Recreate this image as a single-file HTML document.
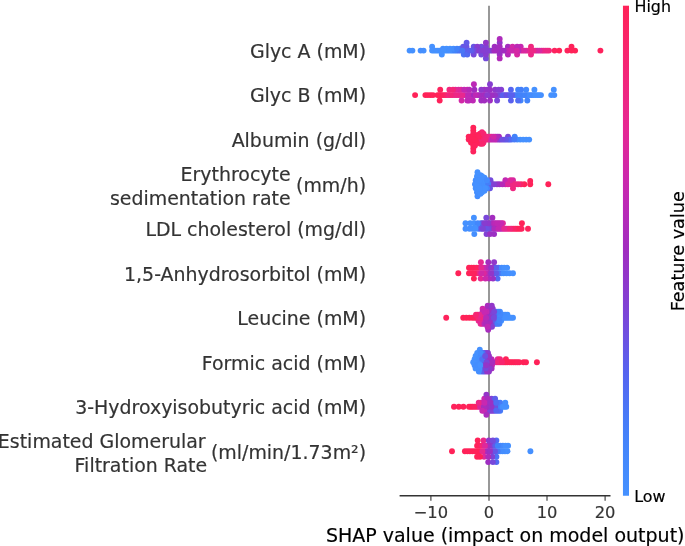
<!DOCTYPE html><html><head><meta charset="utf-8"><title>SHAP summary</title>
<style>html,body{margin:0;padding:0;background:#fff}svg{display:block}text{font-family:"DejaVu Sans","Liberation Sans",sans-serif;stroke-width:0.18px;paint-order:stroke}</style></head><body>
<svg width="685" height="546" viewBox="0 0 685 546">
<rect width="685" height="546" fill="#fff"/>
<defs><linearGradient id="cb" x1="0" y1="1" x2="0" y2="0">
<stop offset="0.00" stop-color="#4591ff"/>
<stop offset="0.05" stop-color="#448bfd"/>
<stop offset="0.10" stop-color="#4385fb"/>
<stop offset="0.15" stop-color="#467cf8"/>
<stop offset="0.20" stop-color="#4d70f4"/>
<stop offset="0.25" stop-color="#5564f0"/>
<stop offset="0.30" stop-color="#6557e6"/>
<stop offset="0.35" stop-color="#754adc"/>
<stop offset="0.40" stop-color="#843fd2"/>
<stop offset="0.45" stop-color="#9236c9"/>
<stop offset="0.50" stop-color="#a02dc0"/>
<stop offset="0.55" stop-color="#af2bba"/>
<stop offset="0.60" stop-color="#be29b5"/>
<stop offset="0.65" stop-color="#cc28ac"/>
<stop offset="0.70" stop-color="#d9289f"/>
<stop offset="0.75" stop-color="#e62893"/>
<stop offset="0.80" stop-color="#ec2787"/>
<stop offset="0.85" stop-color="#f2267c"/>
<stop offset="0.90" stop-color="#f72570"/>
<stop offset="0.95" stop-color="#fb2464"/>
<stop offset="1.00" stop-color="#ff2258"/>
</linearGradient></defs>
<line x1="489.0" y1="5.7" x2="489.0" y2="495.75" stroke="#989898" stroke-width="2"/>
<g>
<circle cx="517.1" cy="54.5" r="2.95" fill="#d828a1"/>
<circle cx="432.1" cy="46.7" r="2.95" fill="#4591ff"/>
<circle cx="423.6" cy="50.6" r="2.95" fill="#4591ff"/>
<circle cx="554.6" cy="50.6" r="2.95" fill="#fd235f"/>
<circle cx="460.0" cy="48.7" r="2.95" fill="#457df8"/>
<circle cx="499.7" cy="54.5" r="2.95" fill="#9a31c4"/>
<circle cx="494.6" cy="46.7" r="2.95" fill="#9f2dc0"/>
<circle cx="507.9" cy="54.5" r="2.95" fill="#b32ab9"/>
<circle cx="463.8" cy="54.5" r="2.95" fill="#4b73f5"/>
<circle cx="567.4" cy="50.6" r="2.95" fill="#fe235c"/>
<circle cx="526.4" cy="50.6" r="2.95" fill="#ec2788"/>
<circle cx="450.0" cy="48.7" r="2.95" fill="#4590ff"/>
<circle cx="520.7" cy="46.7" r="2.95" fill="#c728b2"/>
<circle cx="409.6" cy="50.6" r="2.95" fill="#4591ff"/>
<circle cx="447.2" cy="50.6" r="2.95" fill="#4591ff"/>
<circle cx="571.5" cy="46.7" r="2.95" fill="#fe225a"/>
<circle cx="481.3" cy="46.7" r="2.95" fill="#714dde"/>
<circle cx="452.8" cy="50.6" r="2.95" fill="#4590ff"/>
<circle cx="535.8" cy="50.6" r="2.95" fill="#d628a2"/>
<circle cx="443.0" cy="48.7" r="2.95" fill="#4590ff"/>
<circle cx="473.7" cy="54.5" r="2.95" fill="#764adc"/>
<circle cx="473.7" cy="46.7" r="2.95" fill="#6954e3"/>
<circle cx="559.2" cy="50.6" r="2.95" fill="#ff2258"/>
<circle cx="485.9" cy="58.4" r="2.95" fill="#754adc"/>
<circle cx="600.4" cy="50.6" r="2.95" fill="#fe225c"/>
<circle cx="498.1" cy="50.6" r="2.95" fill="#a32dbf"/>
<circle cx="530.1" cy="50.6" r="2.95" fill="#e02898"/>
<circle cx="445.3" cy="50.6" r="2.95" fill="#4591ff"/>
<circle cx="456.6" cy="50.6" r="2.95" fill="#4878f7"/>
<circle cx="451.0" cy="50.6" r="2.95" fill="#4590ff"/>
<circle cx="500.0" cy="50.6" r="2.95" fill="#9932c5"/>
<circle cx="446.5" cy="48.7" r="2.95" fill="#4591ff"/>
<circle cx="513.2" cy="50.6" r="2.95" fill="#bb29b6"/>
<circle cx="499.7" cy="42.8" r="2.95" fill="#9336c9"/>
<circle cx="501.9" cy="50.6" r="2.95" fill="#9a31c4"/>
<circle cx="520.7" cy="50.6" r="2.95" fill="#c528b3"/>
<circle cx="505.6" cy="50.6" r="2.95" fill="#9d2fc2"/>
<circle cx="499.7" cy="58.4" r="2.95" fill="#b02bba"/>
<circle cx="496.2" cy="50.6" r="2.95" fill="#a32dbf"/>
<circle cx="507.9" cy="46.7" r="2.95" fill="#a42cbf"/>
<circle cx="509.4" cy="50.6" r="2.95" fill="#b42ab9"/>
<circle cx="460.4" cy="50.6" r="2.95" fill="#4e6ff4"/>
<circle cx="543.3" cy="50.6" r="2.95" fill="#eb2789"/>
<circle cx="512.5" cy="46.7" r="2.95" fill="#d128a7"/>
<circle cx="412.4" cy="50.6" r="2.95" fill="#4591ff"/>
<circle cx="485.9" cy="46.7" r="2.95" fill="#8042d5"/>
<circle cx="515.1" cy="50.6" r="2.95" fill="#d428a4"/>
<circle cx="528.3" cy="50.6" r="2.95" fill="#e52894"/>
<circle cx="477.3" cy="46.7" r="2.95" fill="#883dd0"/>
<circle cx="537.7" cy="50.6" r="2.95" fill="#cc28ac"/>
<circle cx="507.5" cy="50.6" r="2.95" fill="#bf29b4"/>
<circle cx="511.3" cy="50.6" r="2.95" fill="#ca28ae"/>
<circle cx="503.7" cy="50.6" r="2.95" fill="#a12dc0"/>
<circle cx="464.2" cy="50.6" r="2.95" fill="#4b74f5"/>
<circle cx="477.4" cy="50.6" r="2.95" fill="#764adc"/>
<circle cx="533.9" cy="50.6" r="2.95" fill="#eb278a"/>
<circle cx="481.3" cy="54.5" r="2.95" fill="#734cdd"/>
<circle cx="545.2" cy="50.6" r="2.95" fill="#e72892"/>
<circle cx="531.0" cy="54.5" r="2.95" fill="#ec2788"/>
<circle cx="492.4" cy="50.6" r="2.95" fill="#a22dbf"/>
<circle cx="486.8" cy="50.6" r="2.95" fill="#8c3acd"/>
<circle cx="467.9" cy="50.6" r="2.95" fill="#5268f1"/>
<circle cx="458.5" cy="50.6" r="2.95" fill="#4a76f6"/>
<circle cx="466.5" cy="46.7" r="2.95" fill="#6c52e2"/>
<circle cx="434.0" cy="50.6" r="2.95" fill="#4590ff"/>
<circle cx="437.8" cy="50.6" r="2.95" fill="#4591ff"/>
<circle cx="499.7" cy="38.9" r="2.95" fill="#ad2bbb"/>
<circle cx="532.0" cy="50.6" r="2.95" fill="#ec2787"/>
<circle cx="522.6" cy="50.6" r="2.95" fill="#e22897"/>
<circle cx="488.7" cy="50.6" r="2.95" fill="#863ed1"/>
<circle cx="466.6" cy="42.8" r="2.95" fill="#625ae8"/>
<circle cx="420.6" cy="50.6" r="2.95" fill="#458ffe"/>
<circle cx="473.6" cy="50.6" r="2.95" fill="#5d5eeb"/>
<circle cx="475.5" cy="50.6" r="2.95" fill="#744bdd"/>
<circle cx="490.6" cy="50.6" r="2.95" fill="#8240d3"/>
<circle cx="441.5" cy="50.6" r="2.95" fill="#458ffe"/>
<circle cx="575.1" cy="50.6" r="2.95" fill="#ff2259"/>
<circle cx="485.9" cy="54.5" r="2.95" fill="#883dd0"/>
<circle cx="479.2" cy="50.6" r="2.95" fill="#893ccf"/>
<circle cx="454.7" cy="50.6" r="2.95" fill="#4283fa"/>
<circle cx="439.6" cy="50.6" r="2.95" fill="#4590ff"/>
<circle cx="466.0" cy="50.6" r="2.95" fill="#5e5deb"/>
<circle cx="549.0" cy="50.6" r="2.95" fill="#f42679"/>
<circle cx="494.3" cy="50.6" r="2.95" fill="#a52cbe"/>
<circle cx="541.5" cy="50.6" r="2.95" fill="#ec2787"/>
<circle cx="453.5" cy="48.7" r="2.95" fill="#448efe"/>
<circle cx="467.3" cy="54.5" r="2.95" fill="#5269f2"/>
<circle cx="517.1" cy="46.7" r="2.95" fill="#bc29b6"/>
<circle cx="518.8" cy="50.6" r="2.95" fill="#b72ab8"/>
<circle cx="481.1" cy="50.6" r="2.95" fill="#7f43d6"/>
<circle cx="484.9" cy="50.6" r="2.95" fill="#8340d3"/>
<circle cx="547.1" cy="50.6" r="2.95" fill="#ef2782"/>
<circle cx="432.1" cy="50.6" r="2.95" fill="#4591ff"/>
<circle cx="485.9" cy="42.8" r="2.95" fill="#9236c9"/>
<circle cx="449.1" cy="50.6" r="2.95" fill="#458ffe"/>
<circle cx="435.9" cy="50.6" r="2.95" fill="#4591ff"/>
<circle cx="524.5" cy="50.6" r="2.95" fill="#d928a0"/>
<circle cx="443.4" cy="50.6" r="2.95" fill="#4591ff"/>
<circle cx="457.0" cy="48.7" r="2.95" fill="#4283fa"/>
<circle cx="539.6" cy="50.6" r="2.95" fill="#d928a0"/>
<circle cx="516.9" cy="50.6" r="2.95" fill="#d428a5"/>
<circle cx="499.7" cy="46.7" r="2.95" fill="#a52cbe"/>
<circle cx="471.7" cy="50.6" r="2.95" fill="#615ae8"/>
<circle cx="571.5" cy="50.6" r="2.95" fill="#ff2258"/>
<circle cx="463.2" cy="46.7" r="2.95" fill="#6657e5"/>
<circle cx="441.8" cy="54.5" r="2.95" fill="#4591ff"/>
<circle cx="462.3" cy="50.6" r="2.95" fill="#4976f6"/>
<circle cx="469.8" cy="50.6" r="2.95" fill="#5b60ed"/>
<circle cx="531.0" cy="46.7" r="2.95" fill="#f0277f"/>
<circle cx="483.0" cy="50.6" r="2.95" fill="#863ed1"/>
</g>
<g>
<circle cx="425.4" cy="95.1" r="2.95" fill="#ff2258"/>
<circle cx="537.2" cy="95.1" r="2.95" fill="#4591ff"/>
<circle cx="504.6" cy="95.1" r="2.95" fill="#6359e8"/>
<circle cx="461.6" cy="100.5" r="2.95" fill="#d228a6"/>
<circle cx="500.8" cy="95.1" r="2.95" fill="#6a53e3"/>
<circle cx="441.3" cy="95.1" r="2.95" fill="#fc2362"/>
<circle cx="472.0" cy="95.1" r="2.95" fill="#ac2bbc"/>
<circle cx="467.3" cy="89.7" r="2.95" fill="#d528a3"/>
<circle cx="554.3" cy="95.1" r="2.95" fill="#4590ff"/>
<circle cx="501.2" cy="89.7" r="2.95" fill="#8440d3"/>
<circle cx="483.5" cy="95.1" r="2.95" fill="#9733c6"/>
<circle cx="470.1" cy="95.1" r="2.95" fill="#c628b2"/>
<circle cx="473.9" cy="95.1" r="2.95" fill="#a42cbe"/>
<circle cx="520.6" cy="100.5" r="2.95" fill="#4385fb"/>
<circle cx="466.2" cy="95.1" r="2.95" fill="#ba2ab6"/>
<circle cx="497.1" cy="100.5" r="2.95" fill="#7c45d8"/>
<circle cx="452.8" cy="95.1" r="2.95" fill="#ef2782"/>
<circle cx="473.9" cy="84.3" r="2.95" fill="#bc29b6"/>
<circle cx="467.3" cy="100.5" r="2.95" fill="#c029b4"/>
<circle cx="496.9" cy="95.1" r="2.95" fill="#7c45d8"/>
<circle cx="490.0" cy="84.3" r="2.95" fill="#863ed1"/>
<circle cx="508.4" cy="95.1" r="2.95" fill="#6458e7"/>
<circle cx="460.5" cy="95.1" r="2.95" fill="#e52894"/>
<circle cx="551.2" cy="95.1" r="2.95" fill="#4591ff"/>
<circle cx="527.6" cy="95.1" r="2.95" fill="#4388fc"/>
<circle cx="439.4" cy="95.1" r="2.95" fill="#fe225b"/>
<circle cx="464.3" cy="95.1" r="2.95" fill="#cc28ad"/>
<circle cx="472.9" cy="100.5" r="2.95" fill="#be29b5"/>
<circle cx="439.7" cy="100.5" r="2.95" fill="#fe225a"/>
<circle cx="531.4" cy="95.1" r="2.95" fill="#448afd"/>
<circle cx="527.3" cy="100.5" r="2.95" fill="#4284fb"/>
<circle cx="458.6" cy="95.1" r="2.95" fill="#e72892"/>
<circle cx="489.2" cy="95.1" r="2.95" fill="#9335c8"/>
<circle cx="495.1" cy="89.7" r="2.95" fill="#8d39cc"/>
<circle cx="474.4" cy="89.7" r="2.95" fill="#a22dbf"/>
<circle cx="462.4" cy="95.1" r="2.95" fill="#e8288f"/>
<circle cx="458.6" cy="89.7" r="2.95" fill="#da289e"/>
<circle cx="518.0" cy="95.1" r="2.95" fill="#4779f7"/>
<circle cx="514.2" cy="95.1" r="2.95" fill="#4977f6"/>
<circle cx="454.8" cy="95.1" r="2.95" fill="#e8288f"/>
<circle cx="437.5" cy="95.1" r="2.95" fill="#ff2258"/>
<circle cx="498.8" cy="95.1" r="2.95" fill="#7d44d7"/>
<circle cx="521.1" cy="89.7" r="2.95" fill="#447ff9"/>
<circle cx="481.6" cy="95.1" r="2.95" fill="#b12bba"/>
<circle cx="484.3" cy="89.7" r="2.95" fill="#a22dbf"/>
<circle cx="461.1" cy="89.7" r="2.95" fill="#de289b"/>
<circle cx="518.1" cy="100.5" r="2.95" fill="#506df3"/>
<circle cx="516.1" cy="95.1" r="2.95" fill="#447ef9"/>
<circle cx="490.0" cy="89.7" r="2.95" fill="#9a31c4"/>
<circle cx="445.2" cy="95.1" r="2.95" fill="#f62673"/>
<circle cx="485.4" cy="95.1" r="2.95" fill="#a22dbf"/>
<circle cx="443.2" cy="95.1" r="2.95" fill="#fc2360"/>
<circle cx="523.8" cy="95.1" r="2.95" fill="#4284fb"/>
<circle cx="498.7" cy="89.7" r="2.95" fill="#873ed1"/>
<circle cx="468.2" cy="95.1" r="2.95" fill="#be29b5"/>
<circle cx="493.1" cy="95.1" r="2.95" fill="#9e2ec1"/>
<circle cx="510.9" cy="89.7" r="2.95" fill="#5664f0"/>
<circle cx="487.4" cy="89.7" r="2.95" fill="#9633c6"/>
<circle cx="455.5" cy="89.7" r="2.95" fill="#e12898"/>
<circle cx="449.4" cy="89.7" r="2.95" fill="#f2267c"/>
<circle cx="510.9" cy="100.5" r="2.95" fill="#5a60ed"/>
<circle cx="533.3" cy="95.1" r="2.95" fill="#448cfd"/>
<circle cx="525.7" cy="95.1" r="2.95" fill="#4284fb"/>
<circle cx="553.8" cy="89.7" r="2.95" fill="#4591ff"/>
<circle cx="430.5" cy="95.1" r="2.95" fill="#ff2258"/>
<circle cx="440.2" cy="89.7" r="2.95" fill="#fd235d"/>
<circle cx="495.0" cy="95.1" r="2.95" fill="#9633c6"/>
<circle cx="529.5" cy="95.1" r="2.95" fill="#448cfd"/>
<circle cx="481.3" cy="100.5" r="2.95" fill="#a22dbf"/>
<circle cx="535.2" cy="95.1" r="2.95" fill="#4591ff"/>
<circle cx="433.0" cy="95.1" r="2.95" fill="#ff2259"/>
<circle cx="447.1" cy="95.1" r="2.95" fill="#f9256b"/>
<circle cx="484.3" cy="100.5" r="2.95" fill="#a12dbf"/>
<circle cx="512.2" cy="95.1" r="2.95" fill="#5e5deb"/>
<circle cx="427.9" cy="95.1" r="2.95" fill="#ff2258"/>
<circle cx="491.2" cy="95.1" r="2.95" fill="#9f2ec1"/>
<circle cx="469.0" cy="100.5" r="2.95" fill="#bc29b6"/>
<circle cx="464.2" cy="89.7" r="2.95" fill="#c328b3"/>
<circle cx="502.7" cy="95.1" r="2.95" fill="#5a60ed"/>
<circle cx="449.0" cy="95.1" r="2.95" fill="#ef2781"/>
<circle cx="521.8" cy="95.1" r="2.95" fill="#4385fb"/>
<circle cx="487.3" cy="95.1" r="2.95" fill="#8d3acd"/>
<circle cx="479.7" cy="95.1" r="2.95" fill="#a12dc0"/>
<circle cx="456.7" cy="95.1" r="2.95" fill="#ed2786"/>
<circle cx="526.2" cy="89.7" r="2.95" fill="#448afd"/>
<circle cx="450.9" cy="95.1" r="2.95" fill="#f32679"/>
<circle cx="477.8" cy="95.1" r="2.95" fill="#ae2bbb"/>
<circle cx="490.0" cy="100.5" r="2.95" fill="#9f2ec1"/>
<circle cx="506.5" cy="95.1" r="2.95" fill="#6a53e3"/>
<circle cx="541.0" cy="95.1" r="2.95" fill="#458ffe"/>
<circle cx="510.3" cy="95.1" r="2.95" fill="#5861ee"/>
<circle cx="453.0" cy="89.7" r="2.95" fill="#f32679"/>
<circle cx="534.4" cy="89.7" r="2.95" fill="#4591ff"/>
<circle cx="481.3" cy="89.7" r="2.95" fill="#8f38cb"/>
<circle cx="469.3" cy="89.7" r="2.95" fill="#b62ab8"/>
<circle cx="519.9" cy="95.1" r="2.95" fill="#4282fa"/>
<circle cx="415.1" cy="95.1" r="2.95" fill="#ff2258"/>
<circle cx="518.1" cy="89.7" r="2.95" fill="#4381fa"/>
<circle cx="475.8" cy="95.1" r="2.95" fill="#be29b5"/>
<circle cx="539.1" cy="95.1" r="2.95" fill="#4591ff"/>
</g>
<g>
<circle cx="473.3" cy="145.6" r="2.95" fill="#fd235e"/>
<circle cx="507.8" cy="139.6" r="2.95" fill="#6f50e0"/>
<circle cx="488.1" cy="136.6" r="2.95" fill="#e8288e"/>
<circle cx="520.2" cy="139.6" r="2.95" fill="#4590ff"/>
<circle cx="475.3" cy="142.6" r="2.95" fill="#fe225b"/>
<circle cx="482.0" cy="132.1" r="2.95" fill="#f42678"/>
<circle cx="481.5" cy="142.6" r="2.95" fill="#f62674"/>
<circle cx="483.5" cy="142.6" r="2.95" fill="#f1277d"/>
<circle cx="496.6" cy="139.6" r="2.95" fill="#bf29b5"/>
<circle cx="500.3" cy="139.6" r="2.95" fill="#9b30c3"/>
<circle cx="495.5" cy="136.6" r="2.95" fill="#ab2bbc"/>
<circle cx="498.5" cy="139.6" r="2.95" fill="#8e39cc"/>
<circle cx="526.2" cy="139.6" r="2.95" fill="#4591ff"/>
<circle cx="508.0" cy="136.6" r="2.95" fill="#7749db"/>
<circle cx="491.8" cy="136.6" r="2.95" fill="#d728a2"/>
<circle cx="499.0" cy="136.6" r="2.95" fill="#a62cbe"/>
<circle cx="511.5" cy="139.6" r="2.95" fill="#4c72f5"/>
<circle cx="473.3" cy="130.6" r="2.95" fill="#ff2258"/>
<circle cx="479.4" cy="142.6" r="2.95" fill="#fe225b"/>
<circle cx="477.0" cy="136.6" r="2.95" fill="#ff2259"/>
<circle cx="476.5" cy="135.1" r="2.95" fill="#ff2258"/>
<circle cx="494.8" cy="139.6" r="2.95" fill="#c328b3"/>
<circle cx="471.0" cy="136.6" r="2.95" fill="#ff2258"/>
<circle cx="478.0" cy="139.6" r="2.95" fill="#fe225b"/>
<circle cx="480.0" cy="133.6" r="2.95" fill="#fd235e"/>
<circle cx="470.6" cy="139.6" r="2.95" fill="#ff2258"/>
<circle cx="475.2" cy="136.6" r="2.95" fill="#ff2259"/>
<circle cx="484.4" cy="136.6" r="2.95" fill="#f42678"/>
<circle cx="468.7" cy="139.6" r="2.95" fill="#fd235d"/>
<circle cx="471.0" cy="142.6" r="2.95" fill="#fe225a"/>
<circle cx="504.1" cy="139.6" r="2.95" fill="#6b52e2"/>
<circle cx="473.3" cy="142.6" r="2.95" fill="#ff2258"/>
<circle cx="481.8" cy="133.6" r="2.95" fill="#f72570"/>
<circle cx="509.6" cy="139.6" r="2.95" fill="#5368f1"/>
<circle cx="473.3" cy="133.6" r="2.95" fill="#fd235d"/>
<circle cx="523.2" cy="139.6" r="2.95" fill="#4591ff"/>
<circle cx="490.0" cy="136.6" r="2.95" fill="#e8288e"/>
<circle cx="517.2" cy="139.6" r="2.95" fill="#448cfd"/>
<circle cx="505.9" cy="139.6" r="2.95" fill="#6358e7"/>
<circle cx="497.3" cy="136.6" r="2.95" fill="#b12bba"/>
<circle cx="476.1" cy="139.6" r="2.95" fill="#ff2258"/>
<circle cx="529.2" cy="139.6" r="2.95" fill="#4591ff"/>
<circle cx="483.6" cy="139.6" r="2.95" fill="#f32679"/>
<circle cx="480.5" cy="143.8" r="2.95" fill="#f92469"/>
<circle cx="482.6" cy="136.6" r="2.95" fill="#f32679"/>
<circle cx="479.9" cy="139.6" r="2.95" fill="#fb2464"/>
<circle cx="473.3" cy="127.6" r="2.95" fill="#ff2258"/>
<circle cx="502.2" cy="139.6" r="2.95" fill="#6f4fe0"/>
<circle cx="487.3" cy="139.6" r="2.95" fill="#f1277d"/>
<circle cx="477.4" cy="142.6" r="2.95" fill="#ff2258"/>
<circle cx="473.3" cy="148.6" r="2.95" fill="#ff2258"/>
<circle cx="481.7" cy="139.6" r="2.95" fill="#f52676"/>
<circle cx="489.2" cy="139.6" r="2.95" fill="#e32896"/>
<circle cx="491.0" cy="139.6" r="2.95" fill="#d128a7"/>
<circle cx="475.0" cy="145.6" r="2.95" fill="#fe225c"/>
<circle cx="468.7" cy="136.6" r="2.95" fill="#fe225c"/>
<circle cx="480.7" cy="136.6" r="2.95" fill="#f7256f"/>
<circle cx="478.0" cy="135.1" r="2.95" fill="#fe225b"/>
<circle cx="473.3" cy="136.6" r="2.95" fill="#ff2259"/>
<circle cx="486.3" cy="136.6" r="2.95" fill="#f02780"/>
<circle cx="478.9" cy="136.6" r="2.95" fill="#fd235d"/>
<circle cx="514.7" cy="136.6" r="2.95" fill="#4283fa"/>
<circle cx="472.4" cy="139.6" r="2.95" fill="#ff2259"/>
<circle cx="474.3" cy="139.6" r="2.95" fill="#ff2258"/>
<circle cx="492.9" cy="139.6" r="2.95" fill="#c029b4"/>
<circle cx="483.5" cy="133.6" r="2.95" fill="#f72570"/>
<circle cx="485.4" cy="139.6" r="2.95" fill="#f42677"/>
<circle cx="514.3" cy="139.6" r="2.95" fill="#477bf8"/>
<circle cx="473.3" cy="151.6" r="2.95" fill="#fd235d"/>
<circle cx="493.7" cy="136.6" r="2.95" fill="#d328a5"/>
<circle cx="482.5" cy="143.8" r="2.95" fill="#f8256e"/>
</g>
<g>
<circle cx="484.5" cy="184.2" r="2.95" fill="#458ffe"/>
<circle cx="530.2" cy="184.2" r="2.95" fill="#ff2258"/>
<circle cx="480.3" cy="176.2" r="2.95" fill="#458ffe"/>
<circle cx="481.4" cy="180.2" r="2.95" fill="#458ffe"/>
<circle cx="524.3" cy="184.2" r="2.95" fill="#ff2258"/>
<circle cx="483.2" cy="180.2" r="2.95" fill="#448efe"/>
<circle cx="499.5" cy="184.2" r="2.95" fill="#9037ca"/>
<circle cx="477.0" cy="192.2" r="2.95" fill="#448efe"/>
<circle cx="486.4" cy="184.2" r="2.95" fill="#458ffe"/>
<circle cx="478.7" cy="176.2" r="2.95" fill="#4590ff"/>
<circle cx="480.3" cy="192.2" r="2.95" fill="#4591ff"/>
<circle cx="497.0" cy="184.2" r="2.95" fill="#9634c7"/>
<circle cx="492.1" cy="184.2" r="2.95" fill="#6656e5"/>
<circle cx="477.0" cy="176.2" r="2.95" fill="#4591ff"/>
<circle cx="484.5" cy="190.8" r="2.95" fill="#458ffe"/>
<circle cx="482.6" cy="184.2" r="2.95" fill="#4590ff"/>
<circle cx="505.4" cy="184.2" r="2.95" fill="#d128a7"/>
<circle cx="490.5" cy="180.2" r="2.95" fill="#744bdc"/>
<circle cx="510.5" cy="184.2" r="2.95" fill="#d728a1"/>
<circle cx="513.0" cy="188.2" r="2.95" fill="#f02781"/>
<circle cx="475.7" cy="188.2" r="2.95" fill="#4591ff"/>
<circle cx="490.2" cy="184.2" r="2.95" fill="#714edf"/>
<circle cx="483.2" cy="188.2" r="2.95" fill="#4591ff"/>
<circle cx="485.1" cy="180.2" r="2.95" fill="#4591ff"/>
<circle cx="502.5" cy="184.2" r="2.95" fill="#b42ab8"/>
<circle cx="488.3" cy="184.2" r="2.95" fill="#457ef9"/>
<circle cx="505.4" cy="180.2" r="2.95" fill="#c328b3"/>
<circle cx="482.0" cy="192.2" r="2.95" fill="#4591ff"/>
<circle cx="481.4" cy="188.2" r="2.95" fill="#458ffe"/>
<circle cx="478.7" cy="192.2" r="2.95" fill="#4591ff"/>
<circle cx="490.0" cy="188.2" r="2.95" fill="#6855e4"/>
<circle cx="513.0" cy="180.2" r="2.95" fill="#d828a0"/>
<circle cx="480.5" cy="175.2" r="2.95" fill="#4591ff"/>
<circle cx="521.0" cy="184.2" r="2.95" fill="#fa2466"/>
<circle cx="480.7" cy="184.2" r="2.95" fill="#458ffe"/>
<circle cx="475.7" cy="180.2" r="2.95" fill="#448efe"/>
<circle cx="477.5" cy="196.2" r="2.95" fill="#448efe"/>
<circle cx="494.0" cy="184.2" r="2.95" fill="#8340d3"/>
<circle cx="478.8" cy="184.2" r="2.95" fill="#458ffe"/>
<circle cx="477.6" cy="188.2" r="2.95" fill="#4591ff"/>
<circle cx="508.0" cy="184.2" r="2.95" fill="#de289b"/>
<circle cx="475.0" cy="184.2" r="2.95" fill="#458ffe"/>
<circle cx="476.9" cy="184.2" r="2.95" fill="#4591ff"/>
<circle cx="484.5" cy="177.8" r="2.95" fill="#4590ff"/>
<circle cx="487.0" cy="188.2" r="2.95" fill="#4388fc"/>
<circle cx="482.0" cy="176.2" r="2.95" fill="#4591ff"/>
<circle cx="530.2" cy="181.0" r="2.95" fill="#fe225c"/>
<circle cx="513.0" cy="184.2" r="2.95" fill="#ef2782"/>
<circle cx="485.1" cy="188.2" r="2.95" fill="#4591ff"/>
<circle cx="487.0" cy="180.2" r="2.95" fill="#448bfd"/>
<circle cx="477.5" cy="172.2" r="2.95" fill="#4591ff"/>
<circle cx="480.5" cy="193.8" r="2.95" fill="#4590ff"/>
<circle cx="548.3" cy="184.2" r="2.95" fill="#ff2259"/>
<circle cx="518.1" cy="184.2" r="2.95" fill="#f1267d"/>
<circle cx="479.5" cy="188.2" r="2.95" fill="#4591ff"/>
<circle cx="477.6" cy="180.2" r="2.95" fill="#4590ff"/>
<circle cx="510.5" cy="180.2" r="2.95" fill="#dd289b"/>
<circle cx="515.6" cy="184.2" r="2.95" fill="#f02780"/>
<circle cx="479.5" cy="180.2" r="2.95" fill="#4590ff"/>
</g>
<g>
<circle cx="515.8" cy="228.7" r="2.95" fill="#fd235e"/>
<circle cx="478.5" cy="228.7" r="2.95" fill="#4385fb"/>
<circle cx="481.0" cy="223.2" r="2.95" fill="#5d5eeb"/>
<circle cx="496.5" cy="228.7" r="2.95" fill="#a42cbe"/>
<circle cx="490.1" cy="223.2" r="2.95" fill="#863ed1"/>
<circle cx="482.8" cy="223.2" r="2.95" fill="#6a53e3"/>
<circle cx="491.9" cy="223.2" r="2.95" fill="#8b3bce"/>
<circle cx="486.3" cy="217.8" r="2.95" fill="#7a47d9"/>
<circle cx="499.2" cy="223.2" r="2.95" fill="#c029b4"/>
<circle cx="508.1" cy="228.7" r="2.95" fill="#f1277f"/>
<circle cx="486.5" cy="234.1" r="2.95" fill="#8241d4"/>
<circle cx="492.6" cy="228.7" r="2.95" fill="#9b30c3"/>
<circle cx="465.5" cy="223.2" r="2.95" fill="#4591ff"/>
<circle cx="517.7" cy="228.7" r="2.95" fill="#ff2258"/>
<circle cx="470.2" cy="223.2" r="2.95" fill="#4591ff"/>
<circle cx="486.5" cy="223.2" r="2.95" fill="#8f38cb"/>
<circle cx="484.9" cy="228.7" r="2.95" fill="#853fd2"/>
<circle cx="490.7" cy="228.7" r="2.95" fill="#8a3bce"/>
<circle cx="469.5" cy="228.7" r="2.95" fill="#4590ff"/>
<circle cx="502.9" cy="223.2" r="2.95" fill="#df2899"/>
<circle cx="500.3" cy="228.7" r="2.95" fill="#ba2ab6"/>
<circle cx="474.3" cy="234.1" r="2.95" fill="#458ffe"/>
<circle cx="492.4" cy="217.8" r="2.95" fill="#a32dbf"/>
<circle cx="473.9" cy="217.8" r="2.95" fill="#4591ff"/>
<circle cx="519.7" cy="228.7" r="2.95" fill="#ff2258"/>
<circle cx="493.8" cy="223.2" r="2.95" fill="#b52ab8"/>
<circle cx="465.5" cy="228.7" r="2.95" fill="#4590ff"/>
<circle cx="481.0" cy="228.7" r="2.95" fill="#6657e6"/>
<circle cx="495.6" cy="223.2" r="2.95" fill="#bc29b6"/>
<circle cx="488.7" cy="228.7" r="2.95" fill="#764adb"/>
<circle cx="511.9" cy="228.7" r="2.95" fill="#f8256d"/>
<circle cx="506.1" cy="228.7" r="2.95" fill="#ea278c"/>
<circle cx="494.5" cy="228.7" r="2.95" fill="#af2bbb"/>
<circle cx="474.3" cy="223.2" r="2.95" fill="#4591ff"/>
<circle cx="513.9" cy="228.7" r="2.95" fill="#fa2467"/>
<circle cx="486.8" cy="228.7" r="2.95" fill="#6a53e3"/>
<circle cx="477.8" cy="223.2" r="2.95" fill="#4387fc"/>
<circle cx="502.3" cy="228.7" r="2.95" fill="#c728b1"/>
<circle cx="490.0" cy="234.1" r="2.95" fill="#9a31c4"/>
<circle cx="494.1" cy="234.1" r="2.95" fill="#9b30c3"/>
<circle cx="488.3" cy="223.2" r="2.95" fill="#8f38cb"/>
<circle cx="498.4" cy="228.7" r="2.95" fill="#c328b3"/>
<circle cx="501.1" cy="223.2" r="2.95" fill="#c728b1"/>
<circle cx="521.9" cy="223.2" r="2.95" fill="#ff2258"/>
<circle cx="504.2" cy="228.7" r="2.95" fill="#e62892"/>
<circle cx="510.0" cy="228.7" r="2.95" fill="#f3267b"/>
<circle cx="528.0" cy="228.7" r="2.95" fill="#fe235c"/>
<circle cx="472.5" cy="228.7" r="2.95" fill="#4590ff"/>
<circle cx="484.6" cy="223.2" r="2.95" fill="#883ccf"/>
<circle cx="475.5" cy="228.7" r="2.95" fill="#4591ff"/>
<circle cx="497.4" cy="223.2" r="2.95" fill="#c029b4"/>
<circle cx="521.6" cy="228.7" r="2.95" fill="#fd235d"/>
<circle cx="482.9" cy="228.7" r="2.95" fill="#7d44d7"/>
</g>
<g>
<circle cx="506.5" cy="273.2" r="2.95" fill="#4591ff"/>
<circle cx="507.2" cy="267.8" r="2.95" fill="#4591ff"/>
<circle cx="483.8" cy="267.8" r="2.95" fill="#d228a6"/>
<circle cx="473.9" cy="278.6" r="2.95" fill="#ff2258"/>
<circle cx="478.8" cy="267.8" r="2.95" fill="#ec2786"/>
<circle cx="493.6" cy="273.2" r="2.95" fill="#843fd2"/>
<circle cx="488.3" cy="262.3" r="2.95" fill="#a52cbe"/>
<circle cx="473.9" cy="267.8" r="2.95" fill="#fd235d"/>
<circle cx="486.2" cy="267.8" r="2.95" fill="#cc28ac"/>
<circle cx="476.4" cy="267.8" r="2.95" fill="#fd235f"/>
<circle cx="498.5" cy="267.8" r="2.95" fill="#506cf3"/>
<circle cx="458.3" cy="273.2" r="2.95" fill="#ff2258"/>
<circle cx="476.4" cy="273.2" r="2.95" fill="#f9256b"/>
<circle cx="488.7" cy="273.2" r="2.95" fill="#b12bba"/>
<circle cx="478.9" cy="273.2" r="2.95" fill="#f02780"/>
<circle cx="509.6" cy="273.2" r="2.95" fill="#4590ff"/>
<circle cx="493.6" cy="267.8" r="2.95" fill="#7f43d6"/>
<circle cx="469.0" cy="267.8" r="2.95" fill="#ff2258"/>
<circle cx="480.7" cy="278.6" r="2.95" fill="#e62892"/>
<circle cx="488.7" cy="267.8" r="2.95" fill="#b82ab7"/>
<circle cx="501.7" cy="267.8" r="2.95" fill="#448bfd"/>
<circle cx="497.6" cy="278.6" r="2.95" fill="#516af2"/>
<circle cx="469.0" cy="273.2" r="2.95" fill="#ff2258"/>
<circle cx="504.3" cy="267.8" r="2.95" fill="#4591ff"/>
<circle cx="496.0" cy="267.8" r="2.95" fill="#5a60ed"/>
<circle cx="501.0" cy="273.2" r="2.95" fill="#448afd"/>
<circle cx="498.6" cy="273.2" r="2.95" fill="#4977f6"/>
<circle cx="491.1" cy="267.8" r="2.95" fill="#9534c7"/>
<circle cx="493.0" cy="278.6" r="2.95" fill="#9932c5"/>
<circle cx="480.9" cy="262.3" r="2.95" fill="#e62893"/>
<circle cx="486.2" cy="273.2" r="2.95" fill="#bd29b5"/>
<circle cx="489.0" cy="278.6" r="2.95" fill="#ab2cbc"/>
<circle cx="483.8" cy="273.2" r="2.95" fill="#db289d"/>
<circle cx="494.1" cy="262.3" r="2.95" fill="#9137ca"/>
<circle cx="471.5" cy="267.8" r="2.95" fill="#ff2258"/>
<circle cx="503.5" cy="273.2" r="2.95" fill="#448efe"/>
<circle cx="513.0" cy="273.2" r="2.95" fill="#4591ff"/>
<circle cx="496.1" cy="273.2" r="2.95" fill="#625ae8"/>
<circle cx="481.3" cy="267.8" r="2.95" fill="#e72891"/>
<circle cx="485.4" cy="278.6" r="2.95" fill="#cd28ab"/>
<circle cx="471.5" cy="273.2" r="2.95" fill="#fe225b"/>
<circle cx="473.9" cy="273.2" r="2.95" fill="#fd235d"/>
<circle cx="481.3" cy="273.2" r="2.95" fill="#d128a8"/>
<circle cx="491.2" cy="273.2" r="2.95" fill="#9236c9"/>
</g>
<g>
<circle cx="505.6" cy="314.7" r="2.95" fill="#4591ff"/>
<circle cx="488.0" cy="320.7" r="2.95" fill="#a02dc0"/>
<circle cx="493.8" cy="323.7" r="2.95" fill="#6557e6"/>
<circle cx="488.0" cy="317.7" r="2.95" fill="#9c2fc2"/>
<circle cx="491.8" cy="317.7" r="2.95" fill="#9733c6"/>
<circle cx="487.1" cy="314.7" r="2.95" fill="#c229b4"/>
<circle cx="472.2" cy="317.7" r="2.95" fill="#ff2258"/>
<circle cx="487.7" cy="305.7" r="2.95" fill="#a82cbd"/>
<circle cx="497.4" cy="320.7" r="2.95" fill="#4284fb"/>
<circle cx="491.9" cy="323.7" r="2.95" fill="#863ed1"/>
<circle cx="491.8" cy="320.7" r="2.95" fill="#8a3bce"/>
<circle cx="490.0" cy="323.7" r="2.95" fill="#a12dbf"/>
<circle cx="482.5" cy="323.7" r="2.95" fill="#c528b2"/>
<circle cx="481.6" cy="314.7" r="2.95" fill="#e9288d"/>
<circle cx="507.5" cy="314.7" r="2.95" fill="#4591ff"/>
<circle cx="484.2" cy="320.7" r="2.95" fill="#ba2ab6"/>
<circle cx="488.7" cy="308.7" r="2.95" fill="#b22bba"/>
<circle cx="507.2" cy="317.7" r="2.95" fill="#4590ff"/>
<circle cx="482.2" cy="317.7" r="2.95" fill="#e62893"/>
<circle cx="488.4" cy="311.7" r="2.95" fill="#9b30c3"/>
<circle cx="482.4" cy="320.7" r="2.95" fill="#e62893"/>
<circle cx="501.9" cy="314.7" r="2.95" fill="#4591ff"/>
<circle cx="495.6" cy="323.7" r="2.95" fill="#5663ef"/>
<circle cx="494.5" cy="314.7" r="2.95" fill="#6c52e2"/>
<circle cx="476.4" cy="317.7" r="2.95" fill="#f0277f"/>
<circle cx="493.7" cy="320.7" r="2.95" fill="#8a3bce"/>
<circle cx="497.6" cy="317.7" r="2.95" fill="#4284fb"/>
<circle cx="486.7" cy="308.7" r="2.95" fill="#a42cbf"/>
<circle cx="503.8" cy="314.7" r="2.95" fill="#458ffe"/>
<circle cx="485.3" cy="314.7" r="2.95" fill="#c528b2"/>
<circle cx="477.9" cy="314.7" r="2.95" fill="#f52675"/>
<circle cx="498.2" cy="314.7" r="2.95" fill="#4381fa"/>
<circle cx="482.6" cy="308.7" r="2.95" fill="#cf28aa"/>
<circle cx="478.6" cy="320.7" r="2.95" fill="#e8288e"/>
<circle cx="503.4" cy="317.7" r="2.95" fill="#4591ff"/>
<circle cx="480.5" cy="320.7" r="2.95" fill="#dc289d"/>
<circle cx="490.3" cy="311.7" r="2.95" fill="#883dd0"/>
<circle cx="489.8" cy="326.7" r="2.95" fill="#9137ca"/>
<circle cx="484.1" cy="317.7" r="2.95" fill="#d828a0"/>
<circle cx="499.4" cy="323.7" r="2.95" fill="#4283fa"/>
<circle cx="492.8" cy="308.7" r="2.95" fill="#8b3bce"/>
<circle cx="495.6" cy="320.7" r="2.95" fill="#6557e6"/>
<circle cx="501.4" cy="317.7" r="2.95" fill="#448dfe"/>
<circle cx="496.4" cy="314.7" r="2.95" fill="#605be9"/>
<circle cx="495.7" cy="317.7" r="2.95" fill="#6657e5"/>
<circle cx="474.5" cy="317.7" r="2.95" fill="#fd235e"/>
<circle cx="499.5" cy="317.7" r="2.95" fill="#4284fb"/>
<circle cx="480.6" cy="323.7" r="2.95" fill="#e62893"/>
<circle cx="463.2" cy="317.7" r="2.95" fill="#ff2258"/>
<circle cx="497.5" cy="323.7" r="2.95" fill="#467cf8"/>
<circle cx="489.9" cy="320.7" r="2.95" fill="#9c30c3"/>
<circle cx="483.4" cy="314.7" r="2.95" fill="#df289a"/>
<circle cx="482.6" cy="311.7" r="2.95" fill="#c428b3"/>
<circle cx="492.0" cy="326.7" r="2.95" fill="#8440d3"/>
<circle cx="489.0" cy="314.7" r="2.95" fill="#a02dc0"/>
<circle cx="488.1" cy="323.7" r="2.95" fill="#ad2bbb"/>
<circle cx="492.3" cy="311.7" r="2.95" fill="#8042d5"/>
<circle cx="500.0" cy="311.7" r="2.95" fill="#448afd"/>
<circle cx="490.8" cy="308.7" r="2.95" fill="#a12dc0"/>
<circle cx="478.4" cy="317.7" r="2.95" fill="#f52677"/>
<circle cx="446.2" cy="317.7" r="2.95" fill="#fe235c"/>
<circle cx="490.8" cy="314.7" r="2.95" fill="#9e2ec1"/>
<circle cx="486.1" cy="320.7" r="2.95" fill="#a82cbd"/>
<circle cx="480.3" cy="317.7" r="2.95" fill="#ee2784"/>
<circle cx="469.3" cy="317.7" r="2.95" fill="#ff2258"/>
<circle cx="484.4" cy="323.7" r="2.95" fill="#bb29b6"/>
<circle cx="501.2" cy="320.7" r="2.95" fill="#448efe"/>
<circle cx="479.7" cy="314.7" r="2.95" fill="#e82890"/>
<circle cx="492.7" cy="314.7" r="2.95" fill="#8241d4"/>
<circle cx="486.2" cy="323.7" r="2.95" fill="#aa2cbc"/>
<circle cx="509.1" cy="317.7" r="2.95" fill="#4591ff"/>
<circle cx="496.1" cy="311.7" r="2.95" fill="#5564f0"/>
<circle cx="499.3" cy="320.7" r="2.95" fill="#4385fb"/>
<circle cx="466.3" cy="317.7" r="2.95" fill="#ff2258"/>
<circle cx="500.1" cy="314.7" r="2.95" fill="#4388fc"/>
<circle cx="513.0" cy="317.7" r="2.95" fill="#4591ff"/>
<circle cx="489.9" cy="317.7" r="2.95" fill="#9435c8"/>
<circle cx="491.8" cy="305.7" r="2.95" fill="#9236c9"/>
<circle cx="505.3" cy="317.7" r="2.95" fill="#4590ff"/>
<circle cx="498.1" cy="311.7" r="2.95" fill="#4283fa"/>
<circle cx="488.2" cy="329.7" r="2.95" fill="#a72cbd"/>
<circle cx="493.8" cy="317.7" r="2.95" fill="#764adb"/>
<circle cx="494.2" cy="311.7" r="2.95" fill="#7a47d9"/>
<circle cx="476.0" cy="314.7" r="2.95" fill="#f62672"/>
<circle cx="486.5" cy="311.7" r="2.95" fill="#c229b4"/>
<circle cx="486.1" cy="317.7" r="2.95" fill="#b62ab8"/>
<circle cx="484.5" cy="311.7" r="2.95" fill="#c628b2"/>
<circle cx="487.5" cy="326.7" r="2.95" fill="#bf29b5"/>
<circle cx="511.1" cy="317.7" r="2.95" fill="#4591ff"/>
</g>
<g>
<circle cx="477.0" cy="362.2" r="2.95" fill="#458ffe"/>
<circle cx="492.0" cy="365.3" r="2.95" fill="#c029b4"/>
<circle cx="485.9" cy="359.1" r="2.95" fill="#8340d3"/>
<circle cx="479.4" cy="356.0" r="2.95" fill="#4591ff"/>
<circle cx="488.1" cy="365.3" r="2.95" fill="#9534c7"/>
<circle cx="497.7" cy="359.1" r="2.95" fill="#e62893"/>
<circle cx="484.7" cy="362.2" r="2.95" fill="#7f42d5"/>
<circle cx="479.8" cy="349.8" r="2.95" fill="#4591ff"/>
<circle cx="480.8" cy="371.5" r="2.95" fill="#458ffe"/>
<circle cx="477.5" cy="356.0" r="2.95" fill="#4590ff"/>
<circle cx="475.6" cy="368.4" r="2.95" fill="#4591ff"/>
<circle cx="477.2" cy="352.9" r="2.95" fill="#4591ff"/>
<circle cx="474.6" cy="359.1" r="2.95" fill="#4591ff"/>
<circle cx="483.3" cy="356.0" r="2.95" fill="#5368f1"/>
<circle cx="475.6" cy="356.0" r="2.95" fill="#4591ff"/>
<circle cx="515.4" cy="362.2" r="2.95" fill="#fe225a"/>
<circle cx="479.0" cy="352.9" r="2.95" fill="#4591ff"/>
<circle cx="494.3" cy="362.2" r="2.95" fill="#df2899"/>
<circle cx="474.6" cy="365.3" r="2.95" fill="#458ffe"/>
<circle cx="523.5" cy="362.2" r="2.95" fill="#ff2258"/>
<circle cx="481.6" cy="368.4" r="2.95" fill="#4283fa"/>
<circle cx="503.9" cy="362.2" r="2.95" fill="#fa2467"/>
<circle cx="484.4" cy="352.9" r="2.95" fill="#6557e6"/>
<circle cx="483.6" cy="368.4" r="2.95" fill="#5466f1"/>
<circle cx="484.9" cy="371.5" r="2.95" fill="#8141d4"/>
<circle cx="476.5" cy="359.1" r="2.95" fill="#4591ff"/>
<circle cx="481.3" cy="356.0" r="2.95" fill="#4386fb"/>
<circle cx="484.0" cy="359.1" r="2.95" fill="#8241d4"/>
<circle cx="536.9" cy="362.2" r="2.95" fill="#ff2259"/>
<circle cx="487.8" cy="359.1" r="2.95" fill="#7c45d7"/>
<circle cx="473.2" cy="362.2" r="2.95" fill="#4591ff"/>
<circle cx="507.7" cy="362.2" r="2.95" fill="#fd235e"/>
<circle cx="487.6" cy="368.4" r="2.95" fill="#873dd0"/>
<circle cx="496.2" cy="362.2" r="2.95" fill="#d828a1"/>
<circle cx="511.5" cy="362.2" r="2.95" fill="#fe225a"/>
<circle cx="482.8" cy="362.2" r="2.95" fill="#506df3"/>
<circle cx="500.0" cy="362.2" r="2.95" fill="#f8256e"/>
<circle cx="480.9" cy="362.2" r="2.95" fill="#4388fc"/>
<circle cx="486.2" cy="352.9" r="2.95" fill="#7c45d7"/>
<circle cx="475.1" cy="362.2" r="2.95" fill="#4591ff"/>
<circle cx="482.9" cy="371.5" r="2.95" fill="#5b5fec"/>
<circle cx="491.6" cy="359.1" r="2.95" fill="#bb29b6"/>
<circle cx="478.9" cy="362.2" r="2.95" fill="#4591ff"/>
<circle cx="490.1" cy="365.3" r="2.95" fill="#a32dbf"/>
<circle cx="505.9" cy="359.1" r="2.95" fill="#ff2259"/>
<circle cx="488.0" cy="352.9" r="2.95" fill="#883dd0"/>
<circle cx="477.6" cy="368.4" r="2.95" fill="#4591ff"/>
<circle cx="482.6" cy="352.9" r="2.95" fill="#4f6df3"/>
<circle cx="488.5" cy="362.2" r="2.95" fill="#9633c6"/>
<circle cx="480.3" cy="359.1" r="2.95" fill="#448efe"/>
<circle cx="513.5" cy="362.2" r="2.95" fill="#ff2258"/>
<circle cx="509.6" cy="362.2" r="2.95" fill="#ff2258"/>
<circle cx="491.6" cy="368.4" r="2.95" fill="#a52cbe"/>
<circle cx="490.4" cy="362.2" r="2.95" fill="#a22dbf"/>
<circle cx="489.7" cy="359.1" r="2.95" fill="#a12dc0"/>
<circle cx="482.3" cy="365.3" r="2.95" fill="#4f6df3"/>
<circle cx="500.0" cy="359.1" r="2.95" fill="#f42678"/>
<circle cx="492.4" cy="362.2" r="2.95" fill="#a82cbd"/>
<circle cx="505.8" cy="362.2" r="2.95" fill="#ff2258"/>
<circle cx="478.4" cy="359.1" r="2.95" fill="#448efe"/>
<circle cx="489.0" cy="371.5" r="2.95" fill="#9336c9"/>
<circle cx="476.5" cy="365.3" r="2.95" fill="#448efe"/>
<circle cx="482.2" cy="359.1" r="2.95" fill="#4c73f5"/>
<circle cx="480.8" cy="352.9" r="2.95" fill="#448cfd"/>
<circle cx="519.2" cy="362.2" r="2.95" fill="#ff2258"/>
<circle cx="479.6" cy="368.4" r="2.95" fill="#4591ff"/>
<circle cx="498.1" cy="362.2" r="2.95" fill="#f1277d"/>
<circle cx="487.1" cy="356.0" r="2.95" fill="#8f38cb"/>
<circle cx="489.0" cy="356.0" r="2.95" fill="#9733c6"/>
<circle cx="526.0" cy="362.2" r="2.95" fill="#ff2259"/>
<circle cx="489.6" cy="368.4" r="2.95" fill="#8c3acd"/>
<circle cx="478.5" cy="365.3" r="2.95" fill="#448efe"/>
<circle cx="484.3" cy="365.3" r="2.95" fill="#8042d5"/>
<circle cx="486.6" cy="362.2" r="2.95" fill="#7c45d8"/>
<circle cx="487.0" cy="371.5" r="2.95" fill="#9535c8"/>
<circle cx="485.6" cy="368.4" r="2.95" fill="#7a47d9"/>
<circle cx="517.3" cy="362.2" r="2.95" fill="#fe235c"/>
<circle cx="502.0" cy="362.2" r="2.95" fill="#f8256e"/>
<circle cx="480.4" cy="365.3" r="2.95" fill="#4591ff"/>
<circle cx="485.2" cy="356.0" r="2.95" fill="#6e50e0"/>
<circle cx="478.8" cy="371.5" r="2.95" fill="#448efe"/>
<circle cx="486.2" cy="365.3" r="2.95" fill="#9336c9"/>
</g>
<g>
<circle cx="488.5" cy="402.7" r="2.95" fill="#9634c7"/>
<circle cx="500.2" cy="410.7" r="2.95" fill="#467cf8"/>
<circle cx="489.5" cy="406.7" r="2.95" fill="#883dd0"/>
<circle cx="498.2" cy="410.7" r="2.95" fill="#4e6ff4"/>
<circle cx="498.8" cy="406.7" r="2.95" fill="#4b73f5"/>
<circle cx="491.5" cy="398.7" r="2.95" fill="#7f43d6"/>
<circle cx="494.3" cy="402.7" r="2.95" fill="#6a53e3"/>
<circle cx="486.3" cy="410.7" r="2.95" fill="#9a31c4"/>
<circle cx="463.4" cy="406.7" r="2.95" fill="#fe225a"/>
<circle cx="488.3" cy="410.7" r="2.95" fill="#8b3bce"/>
<circle cx="493.2" cy="406.7" r="2.95" fill="#863ed1"/>
<circle cx="497.0" cy="406.7" r="2.95" fill="#4a76f6"/>
<circle cx="498.2" cy="402.7" r="2.95" fill="#477af7"/>
<circle cx="478.3" cy="406.7" r="2.95" fill="#ee2784"/>
<circle cx="470.9" cy="406.7" r="2.95" fill="#fe235c"/>
<circle cx="469.0" cy="406.7" r="2.95" fill="#ff2258"/>
<circle cx="492.4" cy="402.7" r="2.95" fill="#9038cb"/>
<circle cx="494.2" cy="410.7" r="2.95" fill="#7a47d9"/>
<circle cx="484.3" cy="398.7" r="2.95" fill="#ca28ae"/>
<circle cx="500.7" cy="406.7" r="2.95" fill="#4380f9"/>
<circle cx="476.5" cy="406.7" r="2.95" fill="#ef2782"/>
<circle cx="495.1" cy="406.7" r="2.95" fill="#6c51e1"/>
<circle cx="492.2" cy="410.7" r="2.95" fill="#843fd2"/>
<circle cx="472.7" cy="406.7" r="2.95" fill="#fe225a"/>
<circle cx="490.3" cy="410.7" r="2.95" fill="#8042d5"/>
<circle cx="485.8" cy="406.7" r="2.95" fill="#9b31c4"/>
<circle cx="482.6" cy="402.7" r="2.95" fill="#b82ab7"/>
<circle cx="480.7" cy="402.7" r="2.95" fill="#cd28ab"/>
<circle cx="474.6" cy="406.7" r="2.95" fill="#fb2363"/>
<circle cx="486.5" cy="402.7" r="2.95" fill="#9c30c3"/>
<circle cx="487.6" cy="406.7" r="2.95" fill="#a42cbe"/>
<circle cx="484.3" cy="410.7" r="2.95" fill="#c328b3"/>
<circle cx="480.2" cy="406.7" r="2.95" fill="#d628a2"/>
<circle cx="500.2" cy="402.7" r="2.95" fill="#467bf8"/>
<circle cx="454.0" cy="406.7" r="2.95" fill="#fe225c"/>
<circle cx="486.4" cy="394.7" r="2.95" fill="#9335c8"/>
<circle cx="487.5" cy="398.7" r="2.95" fill="#a92cbd"/>
<circle cx="502.6" cy="406.7" r="2.95" fill="#458ffe"/>
<circle cx="506.3" cy="406.7" r="2.95" fill="#4591ff"/>
<circle cx="491.4" cy="406.7" r="2.95" fill="#9335c8"/>
<circle cx="482.1" cy="406.7" r="2.95" fill="#de289b"/>
<circle cx="495.1" cy="398.7" r="2.95" fill="#5d5eeb"/>
<circle cx="483.9" cy="406.7" r="2.95" fill="#aa2cbc"/>
<circle cx="478.7" cy="402.7" r="2.95" fill="#eb2789"/>
<circle cx="496.2" cy="410.7" r="2.95" fill="#5367f1"/>
<circle cx="504.4" cy="406.7" r="2.95" fill="#4591ff"/>
<circle cx="484.6" cy="402.7" r="2.95" fill="#c828b0"/>
<circle cx="505.3" cy="402.7" r="2.95" fill="#458ffe"/>
<circle cx="486.4" cy="414.7" r="2.95" fill="#a92cbd"/>
<circle cx="482.3" cy="410.7" r="2.95" fill="#c728b1"/>
<circle cx="490.4" cy="402.7" r="2.95" fill="#9b31c4"/>
<circle cx="458.8" cy="406.7" r="2.95" fill="#ff2258"/>
<circle cx="496.3" cy="402.7" r="2.95" fill="#4f6df3"/>
</g>
<g>
<circle cx="496.4" cy="456.7" r="2.95" fill="#4c72f5"/>
<circle cx="490.0" cy="445.8" r="2.95" fill="#9634c7"/>
<circle cx="507.5" cy="451.2" r="2.95" fill="#458ffe"/>
<circle cx="484.9" cy="451.2" r="2.95" fill="#c728b1"/>
<circle cx="492.3" cy="456.7" r="2.95" fill="#7e43d6"/>
<circle cx="492.6" cy="445.8" r="2.95" fill="#893ccf"/>
<circle cx="464.9" cy="451.2" r="2.95" fill="#fe225a"/>
<circle cx="477.1" cy="445.8" r="2.95" fill="#ff2258"/>
<circle cx="477.4" cy="451.2" r="2.95" fill="#ff2258"/>
<circle cx="500.4" cy="445.8" r="2.95" fill="#448bfd"/>
<circle cx="484.1" cy="456.7" r="2.95" fill="#df289a"/>
<circle cx="479.7" cy="445.8" r="2.95" fill="#fe225b"/>
<circle cx="488.2" cy="462.1" r="2.95" fill="#9e2ec1"/>
<circle cx="469.9" cy="451.2" r="2.95" fill="#ff2258"/>
<circle cx="452.0" cy="451.2" r="2.95" fill="#ff2258"/>
<circle cx="505.0" cy="451.2" r="2.95" fill="#4590ff"/>
<circle cx="472.4" cy="451.2" r="2.95" fill="#ff2258"/>
<circle cx="492.5" cy="451.2" r="2.95" fill="#8042d5"/>
<circle cx="483.5" cy="440.4" r="2.95" fill="#eb278a"/>
<circle cx="479.9" cy="451.2" r="2.95" fill="#ff2258"/>
<circle cx="500.0" cy="451.2" r="2.95" fill="#448cfd"/>
<circle cx="502.9" cy="445.8" r="2.95" fill="#448afd"/>
<circle cx="502.5" cy="451.2" r="2.95" fill="#448dfe"/>
<circle cx="508.1" cy="445.8" r="2.95" fill="#4591ff"/>
<circle cx="495.2" cy="445.8" r="2.95" fill="#5e5dea"/>
<circle cx="497.5" cy="451.2" r="2.95" fill="#4977f6"/>
<circle cx="496.4" cy="440.4" r="2.95" fill="#5269f2"/>
<circle cx="505.5" cy="445.8" r="2.95" fill="#4591ff"/>
<circle cx="487.5" cy="451.2" r="2.95" fill="#a62cbe"/>
<circle cx="480.0" cy="456.7" r="2.95" fill="#ff2258"/>
<circle cx="482.3" cy="445.8" r="2.95" fill="#f42679"/>
<circle cx="477.7" cy="440.4" r="2.95" fill="#ff2258"/>
<circle cx="496.4" cy="462.1" r="2.95" fill="#5269f2"/>
<circle cx="488.2" cy="456.7" r="2.95" fill="#af2bba"/>
<circle cx="487.4" cy="445.8" r="2.95" fill="#a92cbd"/>
<circle cx="530.4" cy="451.2" r="2.95" fill="#4590ff"/>
<circle cx="495.0" cy="451.2" r="2.95" fill="#6756e5"/>
<circle cx="484.9" cy="445.8" r="2.95" fill="#de289b"/>
<circle cx="488.8" cy="440.4" r="2.95" fill="#9137ca"/>
<circle cx="497.8" cy="445.8" r="2.95" fill="#4283fa"/>
<circle cx="474.9" cy="451.2" r="2.95" fill="#ff2258"/>
<circle cx="492.9" cy="462.1" r="2.95" fill="#7748da"/>
<circle cx="482.4" cy="451.2" r="2.95" fill="#e8288f"/>
<circle cx="467.4" cy="451.2" r="2.95" fill="#ff2258"/>
<circle cx="492.9" cy="440.4" r="2.95" fill="#754bdc"/>
<circle cx="490.0" cy="451.2" r="2.95" fill="#9a31c4"/>
<circle cx="477.1" cy="456.7" r="2.95" fill="#ff2258"/>
</g>
<line x1="399.6" y1="495.75" x2="610.5" y2="495.75" stroke="#333" stroke-width="1.3"/>
<line x1="430.9" y1="495.75" x2="430.9" y2="500.75" stroke="#333" stroke-width="1.1"/>
<text x="430.9" y="518.2" font-size="16.3" fill="#333" stroke="#333" text-anchor="middle">−10</text>
<line x1="489.0" y1="495.75" x2="489.0" y2="500.75" stroke="#333" stroke-width="1.1"/>
<text x="489.0" y="518.2" font-size="16.3" fill="#333" stroke="#333" text-anchor="middle">0</text>
<line x1="547.0" y1="495.75" x2="547.0" y2="500.75" stroke="#333" stroke-width="1.1"/>
<text x="547.0" y="518.2" font-size="16.3" fill="#333" stroke="#333" text-anchor="middle">10</text>
<line x1="605.1" y1="495.75" x2="605.1" y2="500.75" stroke="#333" stroke-width="1.1"/>
<text x="605.1" y="518.2" font-size="16.3" fill="#333" stroke="#333" text-anchor="middle">20</text>
<text x="505.2" y="541.5" font-size="19.0" fill="#000" stroke="#000" text-anchor="middle">SHAP value (impact on model output)</text>
<text x="366.1" y="57.9" font-size="18.95" fill="#333" stroke="#333" text-anchor="end">Glyc A (mM)</text>
<text x="366.1" y="102.4" font-size="18.95" fill="#333" stroke="#333" text-anchor="end">Glyc B (mM)</text>
<text x="366.1" y="146.9" font-size="18.95" fill="#333" stroke="#333" text-anchor="end">Albumin (g/dl)</text>
<text x="366.1" y="236.0" font-size="18.95" fill="#333" stroke="#333" text-anchor="end">LDL cholesterol (mg/dl)</text>
<text x="366.1" y="280.5" font-size="18.95" fill="#333" stroke="#333" text-anchor="end">1,5-Anhydrosorbitol (mM)</text>
<text x="366.1" y="325.0" font-size="18.95" fill="#333" stroke="#333" text-anchor="end">Leucine (mM)</text>
<text x="366.1" y="369.5" font-size="18.95" fill="#333" stroke="#333" text-anchor="end">Formic acid (mM)</text>
<text x="366.1" y="414.0" font-size="18.95" fill="#333" stroke="#333" text-anchor="end">3-Hydroxyisobutyric acid (mM)</text>
<text x="366.1" y="192.0" font-size="18.95" fill="#333" stroke="#333" text-anchor="end">(mm/h)</text>
<text x="290.6" y="181.0" font-size="18.95" fill="#333" stroke="#333" text-anchor="end">Erythrocyte</text>
<text x="290.6" y="205.2" font-size="18.95" fill="#333" stroke="#333" text-anchor="end">sedimentation rate</text>
<text x="366.1" y="459.1" font-size="18.95" fill="#333" stroke="#333" text-anchor="end">(ml/min/1.73m²)</text>
<text x="205.6" y="447.9" font-size="18.95" fill="#333" stroke="#333" text-anchor="end">Estimated Glomerular</text>
<text x="207.2" y="472.1" font-size="18.95" fill="#333" stroke="#333" text-anchor="end">Filtration Rate</text>
<rect x="622.95" y="5.7" width="6.05" height="490.05" fill="url(#cb)"/>
<text x="634.5" y="12.1" font-size="15.9" fill="#000" stroke="#000">High</text>
<text x="634.2" y="502" font-size="15.9" fill="#000" stroke="#000">Low</text>
<text transform="translate(683.7,251.3) rotate(-90)" font-size="17.6" fill="#000" stroke="#000" text-anchor="middle">Feature value</text>
</svg></body></html>
